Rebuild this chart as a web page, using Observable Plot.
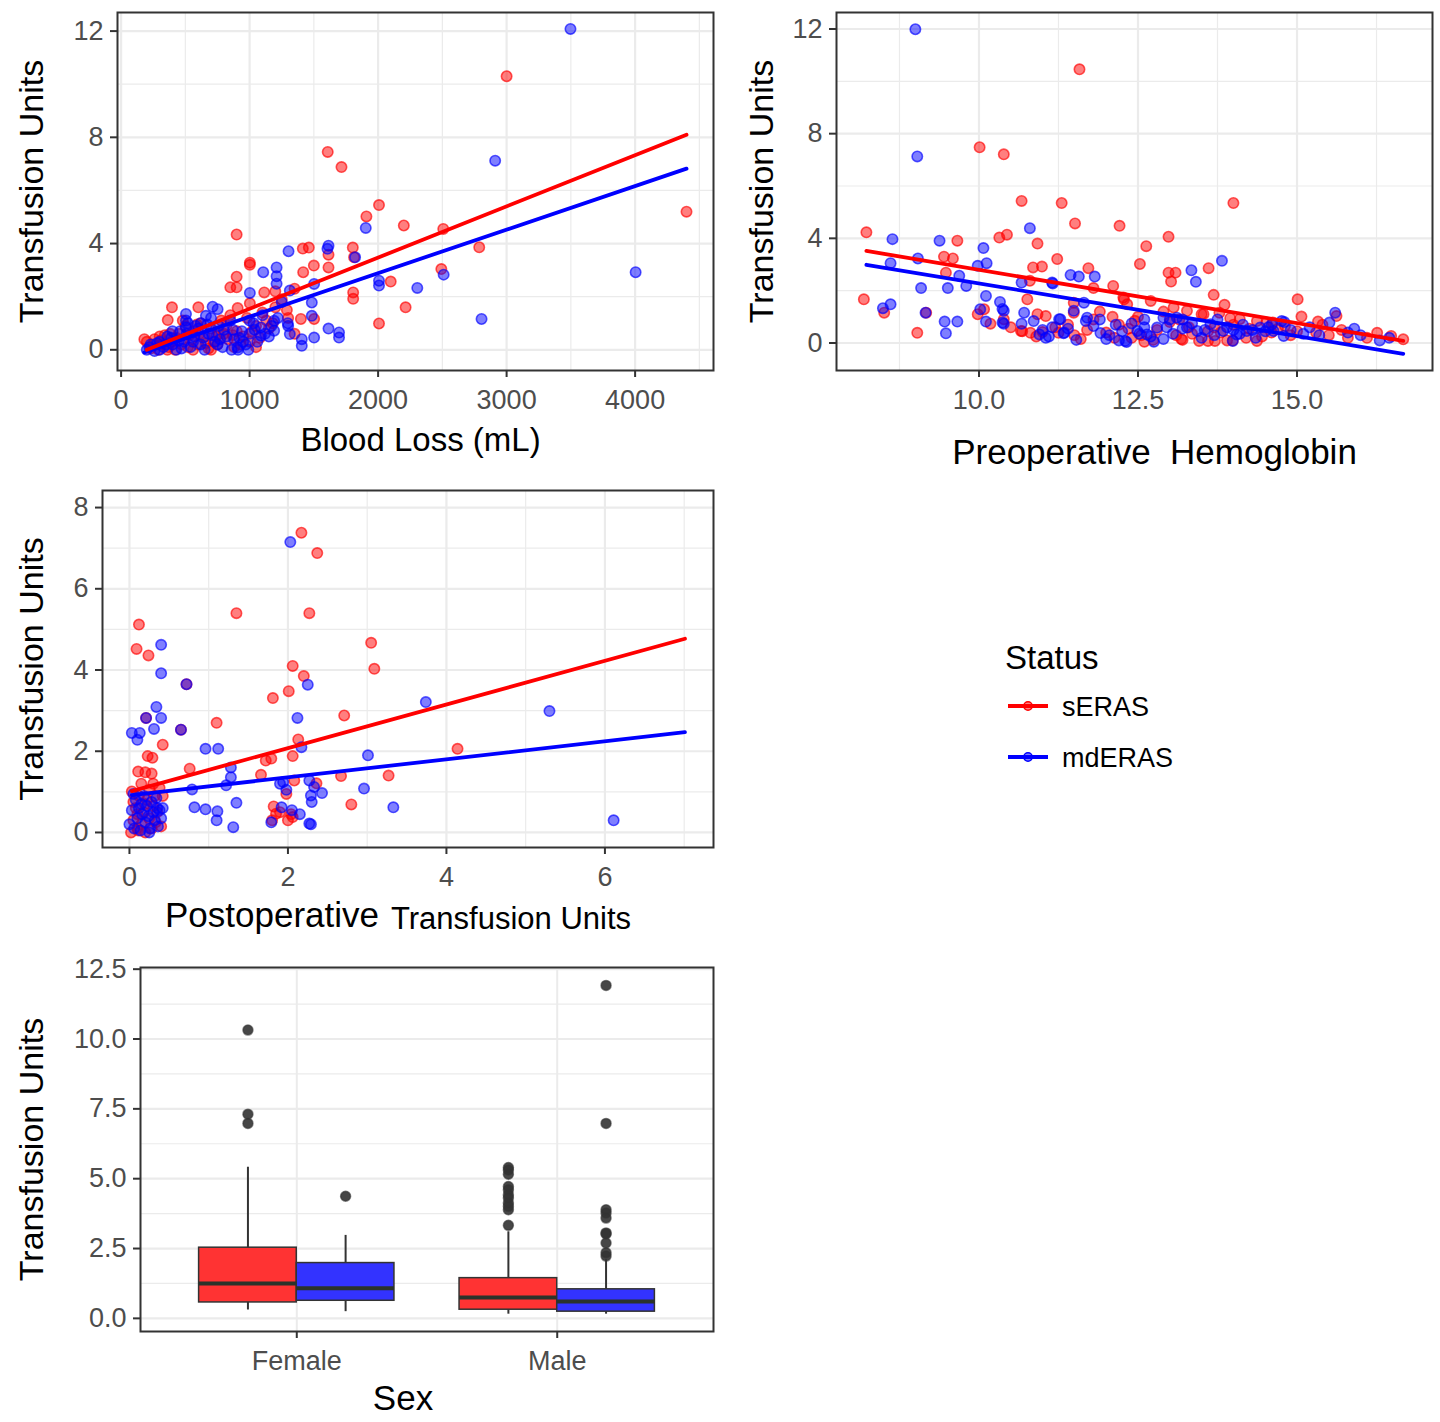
<!DOCTYPE html>
<html>
<head>
<meta charset="utf-8">
<script src="https://cdn.jsdelivr.net/npm/d3@7"></script>
<script src="https://cdn.jsdelivr.net/npm/@observablehq/plot@0.6"></script>
<style>
html, body { margin: 0; padding: 0; background: #fff; }
#root { position: relative; width: 1440px; height: 1422px; overflow: hidden; font-family: "Liberation Sans", Arial, sans-serif; }
.panel { position: absolute; }
svg text { white-space: pre; }
</style>
</head>
<body>
<div id="root"></div>
<script>
// ---------------- DATA ----------------
const statusLevels = ["sERAS", "mdERAS"];

// Panel 1: Blood Loss (mL) vs Transfusion Units
const bloodLossSERAS = [
  [3000,10.3],[4400,5.2],[1608,7.45],[1715,6.88],[2007,5.45],[1909,5.02],[2200,4.68],[899,4.34],[2507,4.55],[2787,3.86],
  [2492,3.04],[1414,3.81],[1461,3.85],[1803,3.85],[1614,3.58],[1813,3.48],[1002,3.28],[1002,3.2],[1500,3.17],[1614,3.1],
  [899,2.75],[1417,2.92],[850,2.35],[899,2.35],[1806,2.16],[1806,1.92],[2098,2.57],[2214,1.6],[2007,0.99],[1399,1.16],
  [1502,1.16],[601,1.6],[396,1.6],[363,1.12],[907,1.57],[1002,1.75],[1114,2.16],[1200,2.2],[1290,1.5],[1350,2.3],[181,0.4],
  [200,0.3],[230,0.05],[260,0.4],[290,0.0],[320,0.2],[340,0.55],[370,0.1],[400,0.3],[420,0.0],[450,0.6],[470,0.2],
  [500,0.9],[520,0.1],[550,0.4],[580,0.7],[600,0.2],[620,1.0],[650,0.5],[680,0.05],[700,0.8],[720,0.3],[750,0.2],
  [780,1.1],[800,0.6],[830,0.4],[850,1.3],[880,0.1],[900,0.7],[950,0.5],[980,1.2],[1000,0.3],[1050,0.9],[1100,1.4],
  [1150,0.8],[1200,1.6],[1250,1.9],[1300,1.2],[1350,0.6],[1050,0.1],[700,0.0],[300,0.5],[480,1.1],[560,0.0],[760,0.6],[1180,1.0],
  [250,0.2],[310,0.35],[380,0.6],[430,0.45],[530,0.55],[610,0.6],[660,0.25],[740,0.5],[820,0.9],[870,0.55],[930,0.2],
  [1020,0.7],[1080,0.45],[1130,1.1],[360,0.0],[590,0.95]
];
const bloodLossMdERAS = [
  [3497,12.08],[2911,7.12],[2510,2.83],[2305,2.33],[2805,1.16],[4004,2.92],[1904,4.59],[1614,3.92],[1606,3.8],[1303,3.71],
  [1821,3.48],[1106,2.92],[1210,3.1],[1210,2.77],[1210,2.49],[2007,2.6],[2007,2.42],[1502,2.48],[1002,2.14],[1313,2.23],
  [1484,1.78],[1484,1.28],[1313,0.59],[1406,0.4],[1406,0.15],[1502,0.46],[1614,0.8],[1696,0.65],[1696,0.46],[505,1.35],
  [505,1.1],[505,0.84],[712,1.62],[751,1.53],[660,1.28],[907,0.09],[1191,0.72],[1191,1.09],[1088,0.84],[1088,0.53],[1297,1.0],
  [200,0.0],[230,0.2],[260,-0.05],[300,0.3],[330,0.1],[360,0.5],[400,0.2],[430,0.0],[460,0.7],[490,0.3],[520,1.0],
  [540,0.1],[570,0.5],[600,0.8],[620,0.2],[650,0.0],[680,0.6],[700,1.2],[730,0.3],[760,0.9],[790,0.1],[820,0.5],
  [850,1.1],[880,0.4],[910,0.0],[940,0.7],[970,0.2],[1000,0.6],[1030,1.0],[1060,0.3],[1100,1.3],[1150,0.5],[1250,1.8],
  [1300,0.9],[620,1.0],[400,0.7],[300,0.0],[560,0.3],[860,0.0],[750,0.2],[1000,1.1],[950,0.3],
  [220,0.1],[280,0.25],[350,0.2],[390,0.45],[450,0.35],[510,0.6],[580,0.9],[640,0.45],[670,0.95],[710,0.55],[770,0.4],
  [800,0.75],[870,0.75],[920,0.45],[990,0.0],[1040,0.75],[1120,0.6],[1170,0.9],[1220,1.2],[470,0.05]
];
const fitBloodLossSERAS = [[200,0.0],[4400,8.1]];
const fitBloodLossMdERAS = [[180,-0.1],[4400,6.82]];
const bloodLossTicks = [0,1000,2000,3000,4000];
const bloodLossMinor = [500,1500,2500,3500,4500];
const unitsTicks12 = [0,4,8,12];
const unitsMinor12 = [2,6,10];

// Panel 2: Preoperative Hemoglobin vs Transfusion Units
const hemoglobinSERAS = [
  [11.58,10.46],[10.01,7.48],[10.39,7.21],[10.67,5.43],[11.3,5.35],[11.51,4.57],[12.21,4.48],[8.23,4.23],[9.66,3.91],[10.32,4.03],
  [10.44,4.14],[10.92,3.8],[9.45,3.3],[9.59,3.23],[11.23,3.21],[10.85,2.89],[10.99,2.92],[11.72,2.86],[9.48,2.69],[11.8,2.1],
  [12.11,2.18],[10.8,2.38],[8.19,1.67],[8.51,1.16],[9.17,1.16],[9.03,0.39],[9.98,1.1],[10.08,1.29],[10.18,0.74],[10.39,0.91],
  [10.66,0.46],[10.81,0.39],[10.76,1.67],[10.92,1.1],[11.05,1.03],[11.49,1.54],[11.49,1.16],[12.27,1.74],[12.33,1.48],
  [14.0,5.35],[12.98,4.06],[12.63,3.7],[12.53,3.02],[12.98,2.69],[13.09,2.69],[13.02,2.35],[13.61,2.86],[13.69,1.84],[13.86,1.46],
  [13.78,1.16],[15.01,1.67],[15.07,1.01],[15.33,0.82],[15.62,1.03],[16.26,0.39],[16.48,0.27],[16.67,0.14],[12.7,1.61],[13.46,0.08],
  [13.6,0.08],[13.71,0.08],[14.37,0.08],[12.74,0.12],[13.2,0.12],[14.52,0.78],[14.81,0.65],[15.3,0.4],[15.5,0.3],[15.7,0.5],
  [15.8,0.2],[16.1,0.2],[11.2,0.6],[11.5,0.3],[11.8,0.9],[12.0,0.4],[12.2,0.7],[12.4,0.2],[12.5,1.0],[12.8,0.5],[13.0,0.8],
  [13.1,0.3],[13.3,0.6],[13.5,1.1],[13.8,0.4],[14.0,0.7],[14.2,0.2],[14.6,0.4],[14.9,0.3],[12.6,0.05],[11.9,1.2],[13.9,0.1],
  [12.28,1.67],[13.06,1.36],[13.27,1.23],[13.53,1.1],[14.1,0.91],[14.37,0.84],[14.62,0.78],[10.68,0.45],[11.0,0.42],[11.25,0.39],
  [13.18,0.15],[13.99,0.1],[12.13,0.2],
  [11.4,0.7],[11.7,0.5],[12.1,1.0],[12.35,0.55],[12.55,0.3],[12.9,1.2],[13.15,0.9],[13.35,0.35],[13.7,0.6],[13.95,0.95],
  [14.25,0.55],[14.45,0.25],[14.7,0.55],[15.0,0.45],[15.4,0.7],[12.45,0.85],[13.6,0.45],[11.6,0.15],[10.5,0.6],[10.9,0.25]
];
const hemoglobinMdERAS = [
  [9.0,11.99],[9.03,7.13],[8.64,3.97],[9.38,3.91],[10.8,4.39],[10.07,3.63],[9.98,2.95],[10.12,3.05],[9.04,3.23],[8.61,3.05],
  [9.09,2.1],[9.51,2.1],[9.69,2.57],[9.8,2.18],[8.49,1.33],[8.61,1.48],[9.16,1.16],[9.46,0.82],[9.48,0.37],[9.66,0.82],
  [10.02,1.29],[10.11,1.8],[10.11,0.82],[10.33,1.57],[10.39,1.23],[10.39,0.74],[10.67,2.31],[10.71,1.16],[10.67,0.74],[10.95,0.33],
  [11.05,0.2],[11.1,0.25],[11.16,2.27],[11.44,2.6],[11.57,2.54],[11.82,2.54],[11.26,0.91],[11.53,0.12],[11.34,0.4],[11.65,1.54],
  [11.7,0.97],[11.91,0.38],[12.05,0.3],[12.2,0.1],[12.32,0.04],[13.82,3.14],[13.34,2.78],[13.41,2.34],[15.6,1.16],[15.51,0.78],
  [13.2,0.9],[13.0,0.9],[12.3,0.08],[12.52,0.35],[12.7,0.25],[12.9,0.15],[14.6,0.7],[14.8,0.8],[15.8,0.4],[16.0,0.3],
  [16.3,0.1],[16.45,0.2],[13.99,0.08],[13.9,0.6],[14.1,0.35],[14.3,0.5],[14.5,0.45],[12.49,0.46],[12.64,0.33],[12.8,0.59],
  [12.9,0.97],[13.11,0.97],[13.27,0.59],[13.43,0.46],[13.64,0.72],[13.84,0.46],[14.05,0.33],[14.21,0.46],[14.42,0.59],[14.63,0.46],
  [14.76,0.84],[14.79,0.27],[11.15,2.31],[10.37,1.3],[10.37,0.78],[10.86,0.84],[11.0,0.5],[11.28,0.91],[11.33,0.37],[11.49,1.23],
  [11.68,0.84],[11.15,0.6],[12.15,0.7],[12.6,0.9],[13.5,0.2],[15.2,0.6],[15.9,0.55],
  [11.8,0.65],[12.0,0.15],[12.25,0.45],[12.4,0.75],[12.75,0.05],[12.95,0.6],[13.05,0.35],[13.2,0.55],[13.35,0.75],[13.55,0.5],
  [13.7,0.3],[13.75,0.9],[14.0,0.5],[14.15,0.7],[14.35,0.2],[14.55,0.6],[14.9,0.5],[15.1,0.35],[15.35,0.3],[11.4,0.55],
  [11.9,0.9],[12.6,0.6]
];
const fitHemoglobinSERAS = [[8.23,3.52],[16.67,0.08]];
const fitHemoglobinMdERAS = [[8.23,2.99],[16.67,-0.41]];
const hemoglobinTicks = [10, 12.5, 15];
const hemoglobinMinor = [8.75, 11.25, 13.75, 16.25];

// Panel 3: Postoperative Transfusion Units vs Transfusion Units
const postopSERAS = [
  [2.17,7.38],[2.37,6.88],[1.35,5.4],[2.27,5.4],[0.12,5.12],[0.09,4.52],[0.24,4.36],[3.05,4.67],[3.09,4.03],[2.06,4.1],
  [2.2,3.85],[2.01,3.48],[1.81,3.31],[0.72,3.65],[0.21,2.82],[0.65,2.53],[1.1,2.7],[2.71,2.88],[0.42,2.16],[0.23,1.88],
  [0.29,1.84],[2.13,2.29],[2.06,1.88],[1.79,1.82],[1.72,1.77],[0.11,1.5],[0.2,1.48],[0.28,1.45],[0.76,1.57],[2.67,1.39],
  [3.27,1.4],[1.66,1.42],[2.8,0.69],[0.03,1.01],[2.08,1.28],[1.98,0.95],[1.82,0.64],[1.9,0.5],[2.0,0.3],[1.8,0.3],
  [2.04,0.45],[4.14,2.06],[2.36,1.21],[1.85,0.46],[2.06,0.38],
  [0.02,0.0],[0.05,0.3],[0.08,0.6],[0.1,0.1],[0.12,0.9],[0.15,0.2],[0.18,0.5],[0.2,0.0],[0.22,0.8],[0.25,0.35],
  [0.28,0.1],[0.3,0.65],[0.33,0.25],[0.35,0.5],[0.38,1.1],[0.4,0.15],[0.05,0.75],[0.15,1.2],[0.25,1.05],[0.32,0.9],
  [0.1,0.45],[0.2,0.7],[0.11,0.05],[0.3,1.2],[0.42,0.9]
];
const postopMdERAS = [
  [2.03,7.15],[0.4,4.62],[0.4,3.92],[2.25,3.64],[0.72,3.65],[0.34,3.09],[0.4,2.82],[0.21,2.82],[0.31,2.55],[0.65,2.53],
  [2.12,2.82],[0.03,2.45],[0.13,2.45],[0.1,2.28],[0.96,2.06],[1.12,2.06],[3.01,1.9],[2.17,2.1],[1.28,1.6],[1.28,1.36],
  [1.22,1.16],[0.79,1.06],[1.94,1.24],[1.98,1.05],[2.27,1.28],[2.43,0.97],[2.29,0.91],[2.96,1.08],[0.82,0.62],[0.96,0.57],
  [1.11,0.52],[1.1,0.3],[1.31,0.13],[1.35,0.73],[1.79,0.25],[1.92,0.62],[2.05,0.55],[2.15,0.45],[2.27,0.22],[3.33,0.62],
  [3.74,3.21],[5.3,2.99],[6.11,0.3],[2.29,0.2],[1.9,1.2],[2.33,1.12],[2.3,0.75],
  [0.0,0.2],[0.03,0.55],[0.06,0.1],[0.08,0.8],[0.1,0.35],[0.12,0.6],[0.14,0.05],[0.16,0.45],[0.18,0.9],[0.2,0.25],
  [0.22,0.65],[0.24,0.4],[0.26,0.1],[0.28,0.75],[0.3,0.5],[0.32,0.3],[0.34,0.85],[0.36,0.15],[0.38,0.55],[0.4,0.35],
  [0.05,0.95],[0.15,0.7],[0.25,0.0],[0.35,0.6],[0.42,0.6]
];
const fitPostopSERAS = [[0.03,1.02],[7.01,4.77]];
const fitPostopMdERAS = [[0.03,0.92],[7.01,2.47]];
const postopTicks = [0,2,4,6];
const postopMinor = [1,3,5,7];
const unitsTicks8 = [0,2,4,6,8];
const unitsMinor8 = [1,3,5,7];

// Panel 4: box plots by Sex and Status
const sexCategories = ["Female", "Male"];
const boxSex = ["Female", "Female", "Male", "Male"];
const boxStatus = ["sERAS", "mdERAS", "sERAS", "mdERAS"];
const boxWhiskerLow = [0.3, 0.24, 0.15, 0.15];
const boxQ1 = [0.57, 0.63, 0.31, 0.24];
const boxMedian = [1.25, 1.08, 0.75, 0.6];
const boxQ3 = [2.53, 1.98, 1.44, 1.04];
const boxWhiskerHigh = [5.41, 2.97, 3.1, 2.1];
const boxOutliers = [
  [10.32, 7.31, 6.98],
  [4.37],
  [3.33, 3.89, 4.01, 4.13, 4.31, 4.42, 4.6, 4.72, 5.16, 5.31, 5.4],
  [2.23, 2.35, 2.7, 3.02, 3.06, 3.59, 3.77, 3.89, 6.98, 11.92]
];
const boxTicks = [0, 2.5, 5, 7.5, 10, 12.5];
const boxMinor = [1.25, 3.75, 6.25, 8.75, 11.25];

// ---------------- STYLE ----------------
const RED = "#FF0000", BLUE = "#0000FF";
const GRID = "#EBEBEB", DARK = "#333333", TICKTEXT = "#4D4D4D";
const FONT = '"Liberation Sans", Arial, Helvetica, sans-serif';
const root = document.getElementById("root");

function place(node, left, top, width) {
  const div = document.createElement("div");
  div.className = "panel";
  div.style.left = left + "px";
  div.style.top = top + "px";
  div.style.width = width + "px";
  div.appendChild(node);
  root.appendChild(div);
}

function titleMarks(titles) {
  return titles.map(t => Plot.text([t.text], {
    text: d => d, frameAnchor: t.anchor, dx: t.dx || 0, dy: t.dy || 0,
    rotate: t.rotate || 0, fontSize: t.fontSize, textAnchor: t.textAnchor || "middle",
    fill: "#000"
  }));
}

function axes(cfg) {
  return [
    Plot.axisX({ticks: cfg.xTicks, tickFormat: cfg.xFormat, tickSize: 7, tickPadding: 12,
      stroke: DARK, strokeWidth: 2, fill: TICKTEXT, label: null}),
    Plot.axisY({ticks: cfg.yTicks, tickFormat: cfg.yFormat, tickSize: 7, tickPadding: 7,
      stroke: DARK, strokeWidth: 2, fill: TICKTEXT, label: null})
  ];
}

function scatterPanel(cfg) {
  const pts = [
    ...cfg.red.map(([x, y]) => ({x, y, s: "sERAS"})),
    ...cfg.blue.map(([x, y]) => ({x, y, s: "mdERAS"}))
  ];
  const fits = [
    ...cfg.fitBlue.map(([x, y]) => ({x, y, s: "mdERAS"})),
    ...cfg.fitRed.map(([x, y]) => ({x, y, s: "sERAS"}))
  ];
  const p = Plot.plot({
    width: cfg.width, height: cfg.height,
    marginLeft: cfg.margin[0], marginTop: cfg.margin[1], marginRight: cfg.margin[2], marginBottom: cfg.margin[3],
    x: {domain: cfg.xDomain}, y: {domain: cfg.yDomain},
    color: {domain: statusLevels, range: [RED, BLUE]},
    style: {fontFamily: FONT, fontSize: "27px", background: "transparent", overflow: "visible"},
    marks: [
      Plot.gridX({ticks: cfg.xMinor, stroke: GRID, strokeOpacity: 1, strokeWidth: 1.2}),
      Plot.gridY({ticks: cfg.yMinor, stroke: GRID, strokeOpacity: 1, strokeWidth: 1.2}),
      Plot.gridX({ticks: cfg.xTicks, stroke: GRID, strokeOpacity: 1, strokeWidth: 2.2}),
      Plot.gridY({ticks: cfg.yTicks, stroke: GRID, strokeOpacity: 1, strokeWidth: 2.2}),
      Plot.dot(pts, {x: "x", y: "y", r: 5.2, fill: "s", stroke: "s", fillOpacity: 0.5, strokeOpacity: 0.65, strokeWidth: 1.6}),
      Plot.line(fits, {x: "x", y: "y", z: "s", stroke: "s", strokeWidth: 3.8}),
      Plot.frame({stroke: DARK, strokeWidth: 2}),
      ...axes(cfg),
      ...titleMarks(cfg.titles)
    ]
  });
  place(p, cfg.left, cfg.top, cfg.width);
}

// Panel 1
scatterPanel({
  left: 0, top: 0, width: 720, height: 470, margin: [117, 12, 7, 100],
  xDomain: [-28, 4610], yDomain: [-0.78, 12.7],
  xTicks: bloodLossTicks, xMinor: bloodLossMinor, yTicks: unitsTicks12, yMinor: unitsMinor12,
  xFormat: d => String(d), yFormat: d => String(d),
  red: bloodLossSERAS, blue: bloodLossMdERAS, fitRed: fitBloodLossSERAS, fitBlue: fitBloodLossMdERAS,
  titles: [
    {text: "Blood Loss (mL)", anchor: "bottom", dx: 5, dy: 80, fontSize: 33},
    {text: "Transfusion Units", anchor: "left", dx: -85, rotate: -90, fontSize: 34}
  ]
});

// Panel 2
scatterPanel({
  left: 720, top: 0, width: 720, height: 470, margin: [116, 12, 8, 100],
  xDomain: [7.76, 17.13], yDomain: [-1.05, 12.63],
  xTicks: hemoglobinTicks, xMinor: hemoglobinMinor, yTicks: unitsTicks12, yMinor: unitsMinor12,
  xFormat: d3.format(".1f"), yFormat: d => String(d),
  red: hemoglobinSERAS, blue: hemoglobinMdERAS, fitRed: fitHemoglobinSERAS, fitBlue: fitHemoglobinMdERAS,
  titles: [
    {text: "Preoperative  Hemoglobin", anchor: "bottom", dx: 20, dy: 93, fontSize: 35},
    {text: "Transfusion Units", anchor: "left", dx: -74, rotate: -90, fontSize: 34}
  ]
});

// Panel 3
scatterPanel({
  left: 0, top: 470, width: 720, height: 480, margin: [102, 20, 7, 103],
  xDomain: [-0.34, 7.37], yDomain: [-0.37, 8.42],
  xTicks: postopTicks, xMinor: postopMinor, yTicks: unitsTicks8, yMinor: unitsMinor8,
  xFormat: d => String(d), yFormat: d => String(d),
  red: postopSERAS, blue: postopMdERAS, fitRed: fitPostopSERAS, fitBlue: fitPostopMdERAS,
  titles: [
    {text: "Postoperative", anchor: "bottom", dx: -29, dy: 79.5, fontSize: 35, textAnchor: "end"},
    {text: "Transfusion Units", anchor: "bottom", dx: -17, dy: 81, fontSize: 31, textAnchor: "start"},
    {text: "Transfusion Units", anchor: "left", dx: -70, rotate: -90, fontSize: 34}
  ]
});

// Panel 4: box plots
(function () {
  const DODGE = 0.1875;
  const rows = boxSex.map((sex, i) => ({
    sex, s: boxStatus[i], lo: boxWhiskerLow[i], q1: boxQ1[i], med: boxMedian[i], q3: boxQ3[i], hi: boxWhiskerHigh[i]
  }));
  const xc = d => sexCategories.indexOf(d.sex) + 1 + (d.s === "sERAS" ? -DODGE : DODGE);
  const outl = rows.flatMap((d, i) => boxOutliers[i].map(v => ({sex: d.sex, s: d.s, v})));
  const cfg = {
    xTicks: [1, 2], xFormat: d => sexCategories[d - 1],
    yTicks: boxTicks, yFormat: d3.format(".1f")
  };
  const p = Plot.plot({
    width: 720, height: 472,
    marginLeft: 140, marginTop: 17, marginRight: 7, marginBottom: 91,
    x: {domain: [0.4, 2.6]}, y: {domain: [-0.47, 12.56]},
    color: {domain: statusLevels, range: ["#FF3333", "#3333FF"]},
    style: {fontFamily: FONT, fontSize: "27px", background: "transparent", overflow: "visible"},
    marks: [
      Plot.gridY({ticks: boxMinor, stroke: GRID, strokeOpacity: 1, strokeWidth: 1.2}),
      Plot.gridY({ticks: boxTicks, stroke: GRID, strokeOpacity: 1, strokeWidth: 2.2}),
      Plot.gridX({ticks: [1, 2], stroke: GRID, strokeOpacity: 1, strokeWidth: 2}),
      Plot.ruleX(rows, {x: xc, y1: "lo", y2: "q1", stroke: DARK, strokeWidth: 2}),
      Plot.ruleX(rows, {x: xc, y1: "q3", y2: "hi", stroke: DARK, strokeWidth: 2}),
      Plot.rect(rows, {x1: d => xc(d) - DODGE, x2: d => xc(d) + DODGE, y1: "q1", y2: "q3", fill: "s", stroke: DARK, strokeWidth: 1.5}),
      Plot.ruleY(rows, {y: "med", x1: d => xc(d) - DODGE, x2: d => xc(d) + DODGE, stroke: "#2b332b", strokeWidth: 4}),
      Plot.dot(outl, {x: xc, y: "v", r: 5, fill: DARK, fillOpacity: 0.9, stroke: DARK, strokeOpacity: 0.6}),
      Plot.frame({stroke: DARK, strokeWidth: 2}),
      ...axes(cfg),
      ...titleMarks([
        {text: "Sex", anchor: "bottom", dx: -24, dy: 78, fontSize: 35},
        {text: "Transfusion Units", anchor: "left", dx: -108, rotate: -90, fontSize: 34}
      ])
    ]
  });
  place(p, 0, 950, 720);
})();

// Legend
(function () {
  const svg = d3.create("svg").attr("width", 260).attr("height", 180)
    .style("font-family", FONT).style("overflow", "visible");
  svg.append("text").attr("x", 15).attr("y", 49).attr("font-size", 33).attr("fill", "#000").text("Status");
  const cols = [RED, BLUE];
  statusLevels.forEach((lab, i) => {
    const y = 86 + i * 51;
    svg.append("line").attr("x1", 18).attr("x2", 58).attr("y1", y).attr("y2", y)
      .attr("stroke", cols[i]).attr("stroke-width", 3.8);
    svg.append("circle").attr("cx", 38).attr("cy", y).attr("r", 4.2)
      .attr("fill", cols[i]).attr("fill-opacity", 0.5).attr("stroke", cols[i]).attr("stroke-width", 1.5);
    svg.append("text").attr("x", 72).attr("y", y + 10).attr("font-size", 27).attr("fill", "#000").text(lab);
  });
  place(svg.node(), 990, 620, 260);
})();
</script>
</body>
</html>
